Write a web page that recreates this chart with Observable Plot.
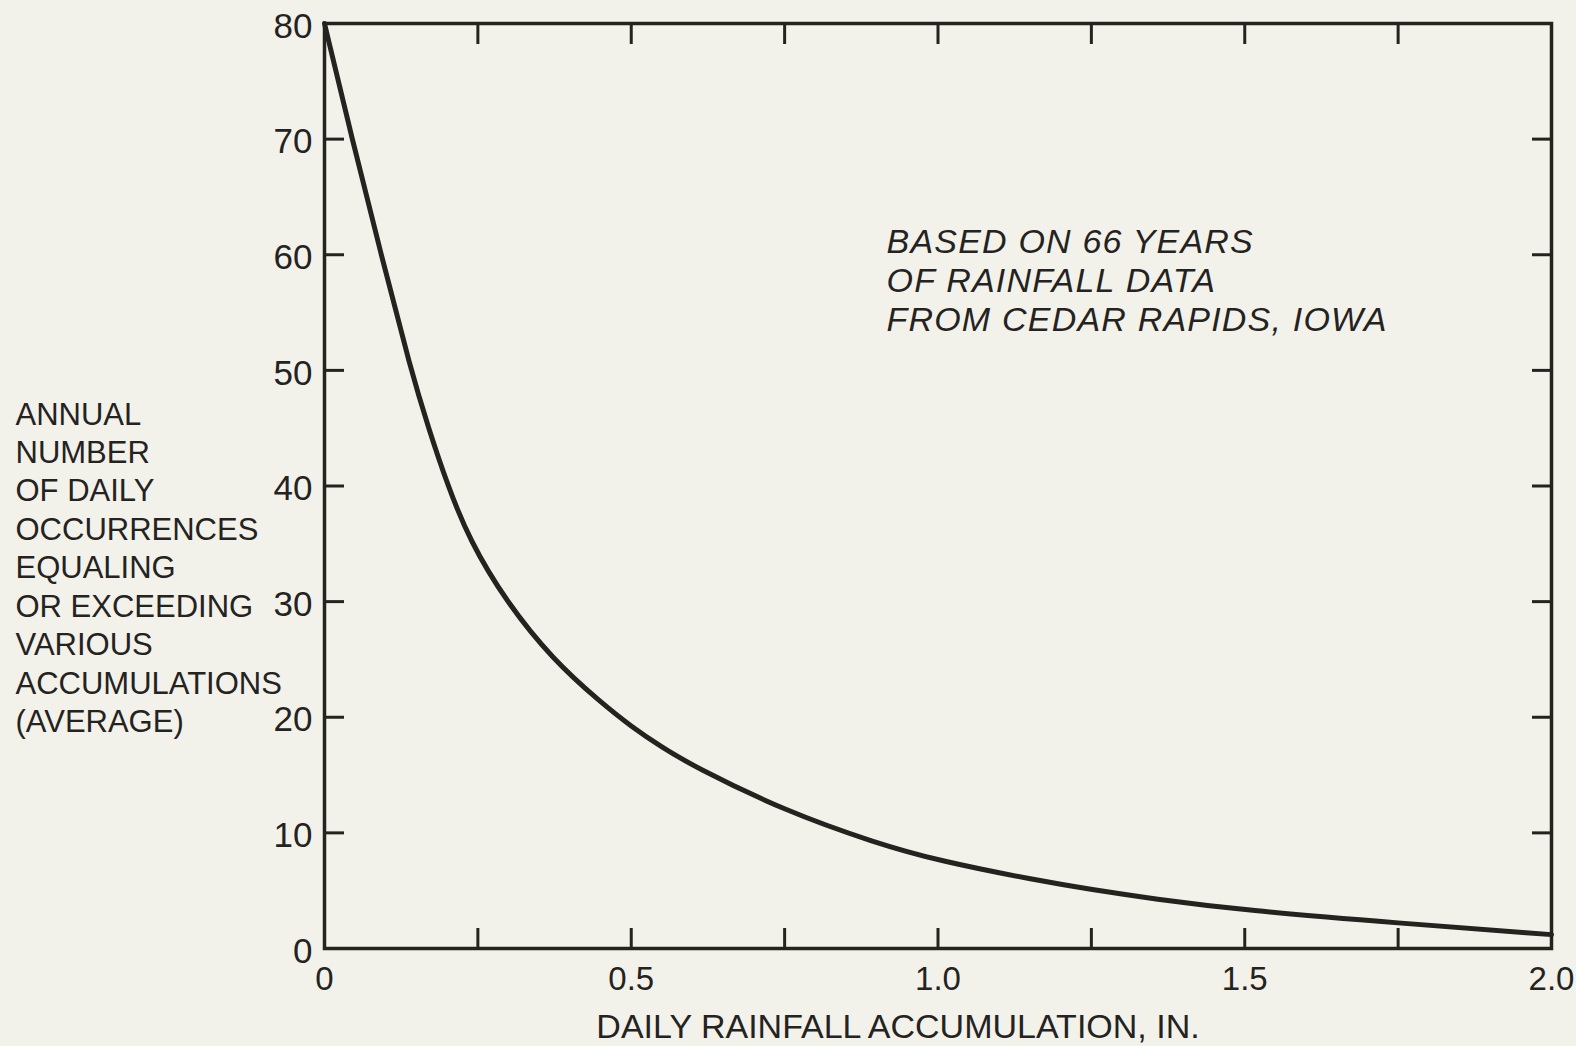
<!DOCTYPE html>
<html>
<head>
<meta charset="utf-8">
<script src="https://cdn.jsdelivr.net/npm/d3@7"></script>
<script src="https://cdn.jsdelivr.net/npm/@observablehq/plot@0.6"></script>
<style>
  html, body { margin: 0; padding: 0; background: #f3f2ea; }
  #chart svg { display: block; }
</style>
</head>
<body>
<div id="chart"></div>
<script>
// Daily rainfall accumulation (in.) and the average annual number of days
// on which that accumulation is equalled or exceeded.
const rainfallIn  = [0, 0.045, 0.0925, 0.141, 0.169, 0.201, 0.2365, 0.296, 0.372, 0.45, 0.5, 0.55, 0.6, 0.75, 0.9, 1.0, 1.16, 1.25, 1.35, 1.5, 1.75, 2.0];
const occurrences = [80, 70, 60, 50, 45.1, 40, 35.3, 30, 25, 21.3, 19.2, 17.4, 15.8, 11.9, 9.1, 7.6, 5.9, 5.1, 4.3, 3.3, 2.2, 1.2];

// Axis ticks and labels
const xTickValues  = [0.25, 0.5, 0.75, 1.0, 1.25, 1.5, 1.75];
const xLabelValues = [0, 0.5, 1.0, 1.5, 2.0];
const xLabelText   = ["0", "0.5", "1.0", "1.5", "2.0"];
const yTickValues  = [10, 20, 30, 40, 50, 60, 70];
const yLabelValues = [0, 10, 20, 30, 40, 50, 60, 70, 80];

const xTitle = "DAILY RAINFALL ACCUMULATION, IN.";
const yTitleLines = [
  "ANNUAL", "NUMBER", "OF DAILY", "OCCURRENCES", "EQUALING",
  "OR EXCEEDING", "VARIOUS", "ACCUMULATIONS", "(AVERAGE)"
];
const noteLines = ["BASED ON 66 YEARS", "OF RAINFALL DATA", "FROM CEDAR RAPIDS, IOWA"];

const ink = "#24231f";
const paper = "#f3f2ea";
const font = "'Liberation Sans', Arial, sans-serif";

const curve = rainfallIn.map((x, i) => ({x, y: occurrences[i]}));
const xLabelMap = new Map(xLabelValues.map((v, i) => [v, xLabelText[i]]));

const chart = Plot.plot({
  width: 1576,
  height: 1046,
  marginLeft: 324,
  marginRight: 25,
  marginTop: 23,
  marginBottom: 98,
  style: {background: paper, color: ink, fontFamily: font},
  x: {domain: [0, 2], label: null},
  y: {domain: [0, 80], label: null},
  marks: [
    Plot.frame({stroke: ink, strokeWidth: 3.5}),
    // inward ticks on all four sides
    Plot.axisX(xTickValues, {anchor: "bottom", tickSize: -20, strokeWidth: 3, stroke: ink, tickFormat: () => "", label: null}),
    Plot.axisX(xTickValues, {anchor: "top", tickSize: -20, strokeWidth: 3, stroke: ink, tickFormat: () => "", label: null}),
    Plot.axisY(yTickValues, {anchor: "left", tickSize: -20, strokeWidth: 3, stroke: ink, tickFormat: () => "", label: null}),
    Plot.axisY(yTickValues, {anchor: "right", tickSize: -20, strokeWidth: 3, stroke: ink, tickFormat: () => "", label: null}),
    // tick labels
    Plot.axisX(xLabelValues, {anchor: "bottom", tickSize: 0, tickPadding: 18, fontSize: 33, fill: ink, tickFormat: (d) => xLabelMap.get(d), label: null}),
    Plot.axisY(yLabelValues, {anchor: "left", tickSize: 0, tickPadding: 12, dy: 3, fontSize: 35, fill: ink, tickFormat: (d) => String(d), label: null}),
    // the exceedance curve
    Plot.line(curve, {x: "x", y: "y", curve: "basis", stroke: ink, strokeWidth: 5, strokeLinejoin: "round"}),
    // titles and note
    Plot.text([xTitle], {frameAnchor: "bottom", dx: -40, dy: 79, lineAnchor: "middle", fontSize: 34, fill: ink}),
    Plot.text([yTitleLines.join("\n")], {frameAnchor: "left", textAnchor: "start", dx: -309, dy: 80, lineAnchor: "middle", lineHeight: 1.24, fontSize: 31, fill: ink}),
    Plot.text([noteLines.join("\n")], {frameAnchor: "top-left", textAnchor: "start", dx: 562, dy: 202, lineAnchor: "top", lineHeight: 1.15, fontSize: 34, fontStyle: "italic", fill: ink})
  ]
});

// Hand-lettered spacing for the note
for (const t of chart.querySelectorAll("text")) {
  if (t.textContent.startsWith(noteLines[0])) t.style.letterSpacing = "1.2px";
}

document.getElementById("chart").appendChild(chart);
</script>
</body>
</html>
